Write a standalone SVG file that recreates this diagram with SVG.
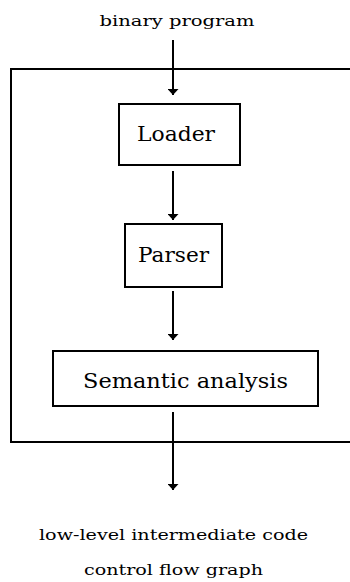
<svg xmlns="http://www.w3.org/2000/svg" width="350" height="582" viewBox="0 0 350 582">
  <style>
    .frame { fill: none; stroke: #000; stroke-width: 2; }
    .box { fill: #fff; stroke: #000; stroke-width: 2; }
    .edge { fill: none; stroke: #000; stroke-width: 2; marker-end: url(#arrow); }
    text { font-family: "DejaVu Serif", "Liberation Serif", serif; fill: #000; text-anchor: middle; }
    .big { font-size: 20px; }
    .small { font-size: 15px; }
  </style>
  <defs>
    <marker id="arrow" viewBox="0 0 6 11" refX="6" refY="5.5" markerWidth="6" markerHeight="11" markerUnits="userSpaceOnUse" orient="auto">
      <path d="M0,0 L6,5.5 L0,11 Z" fill="#000"/>
    </marker>
  </defs>
  <rect width="350" height="582" fill="#fff"/>

  <!-- enclosing frame, open on the right edge -->
  <path class="frame" d="M352,69 H11 V442 H352"/>

  <g id="connectors">
    <line class="edge" x1="173" y1="40" x2="173" y2="95"/>
    <line class="edge" x1="173" y1="171" x2="173" y2="220"/>
    <line class="edge" x1="173" y1="291" x2="173" y2="340"/>
    <line class="edge" x1="173" y1="412" x2="173" y2="490"/>
  </g>

  <g id="input">
    <text class="small" x="177" y="26" textLength="155" lengthAdjust="spacingAndGlyphs">binary program</text>
  </g>

  <g id="loader">
    <rect class="box" x="119" y="104" width="121" height="61"/>
    <text class="big" x="176" y="141" textLength="78" lengthAdjust="spacingAndGlyphs">Loader</text>
  </g>

  <g id="parser">
    <rect class="box" x="125" y="224" width="97" height="63"/>
    <text class="big" x="173.5" y="262" textLength="71" lengthAdjust="spacingAndGlyphs">Parser</text>
  </g>

  <g id="semantic">
    <rect class="box" x="53" y="351" width="265" height="55"/>
    <text class="big" x="185.5" y="388" textLength="205" lengthAdjust="spacingAndGlyphs">Semantic analysis</text>
  </g>

  <g id="output">
    <text class="small" x="173.5" y="540" textLength="269" lengthAdjust="spacingAndGlyphs">low-level intermediate code</text>
    <text class="small" x="173.5" y="575" textLength="179" lengthAdjust="spacingAndGlyphs">control flow graph</text>
  </g>
</svg>
